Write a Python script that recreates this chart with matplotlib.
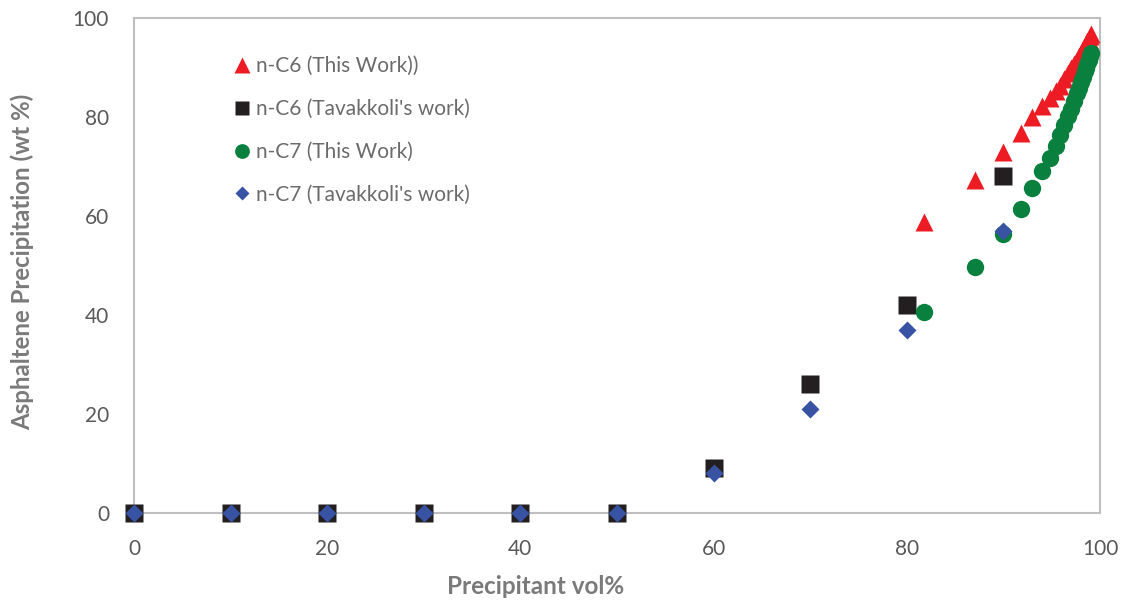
import matplotlib
matplotlib.use("Agg")
import matplotlib.pyplot as plt

# Precipitant volume fraction (%) and asphaltene precipitation (wt %)
tav_x = [0, 10, 20, 30, 40, 50, 60, 70, 80, 90]
c6_tav_y = [0, 0, 0, 0, 0, 0, 9.0, 26.0, 42.0, 68.0]
c7_tav_y = [0, 0, 0, 0, 0, 0, 8.0, 21.0, 37.0, 57.0]

model_x = [81.8, 87.1, 90.0, 91.8, 93.0, 94.0, 94.8, 95.4, 95.9, 96.3, 96.7,
           97.0, 97.3, 97.6, 97.8, 98.0, 98.2, 98.4, 98.55, 98.7, 98.85,
           99.0, 99.1]
c6_model_y = [58.7, 67.2, 72.9, 76.7, 79.9, 82.2, 83.8, 85.2, 86.3, 87.6, 88.8,
              89.8, 90.7, 91.6, 92.3, 93.0, 93.7, 94.3, 94.8, 95.3, 95.8,
              96.3, 96.7]
c7_model_y = [40.6, 49.6, 56.3, 61.5, 65.6, 69.0, 71.8, 74.2, 76.4, 78.3, 80.2,
              81.7, 83.2, 84.8, 85.9, 87.0, 88.1, 89.2, 90.0, 90.8, 91.6,
              92.4, 92.9]

labels = ["n-C6 (This Work))", "n-C6 (Tavakkoli's work)",
          "n-C7 (This Work)", "n-C7 (Tavakkoli's work)"]
x_ticks = [0, 20, 40, 60, 80, 100]
y_ticks = [0, 20, 40, 60, 80, 100]

RED = "#ED1C24"
BLACK = "#231F20"
GREEN = "#0A803F"
BLUE = "#3953A4"
TICK_C = "#595959"
LABEL_C = "#7a7a7a"
SPINE_C = "#BFBFBF"

plt.rcParams["font.family"] = ["Lato", "DejaVu Sans"]

fig = plt.figure(figsize=(11.32, 6.08), dpi=100)
ax = fig.add_axes([134 / 1132, 1 - 513 / 608, (1100 - 134) / 1132, (513 - 18) / 608])

ax.plot(model_x, c6_model_y, linestyle="none", marker="^", ms=13,
        color=RED, mec="none", label=labels[0], zorder=3)
ax.plot(tav_x, c6_tav_y, linestyle="none", marker="s", ms=12.5,
        color=BLACK, mec="none", label=labels[1], zorder=4, clip_on=False)
ax.plot(model_x, c7_model_y, linestyle="none", marker="o", ms=12.5,
        color=GREEN, mec="none", label=labels[2], zorder=5)
ax.plot(tav_x, c7_tav_y, linestyle="none", marker="D", ms=8.9,
        color=BLUE, mec="none", label=labels[3], zorder=6, clip_on=False)

ax.set_xlim(0, 100)
ax.set_ylim(0, 100)
ax.set_xticks(x_ticks)
ax.set_yticks(y_ticks)
ax.tick_params(axis="both", length=0, labelsize=15, colors=TICK_C)
ax.tick_params(axis="x", pad=19)
ax.tick_params(axis="y", pad=18)

for side in ["left", "right", "top", "bottom"]:
    ax.spines[side].set_color(SPINE_C)
    ax.spines[side].set_linewidth(1.5)

fig.text(536 / 1132, 1 - 587 / 608, "Precipitant vol%", ha="center", va="center",
         fontsize=17.5, fontweight="bold", color=LABEL_C)
fig.text(22 / 1132, 1 - 262 / 608, "Asphaltene Precipitation (wt %)", ha="center",
         va="center", rotation=90, fontsize=17.3, fontweight="bold", color=LABEL_C)

leg = ax.legend(loc="upper left", bbox_to_anchor=(236 / 1132, 1 - 56 / 608),
                bbox_transform=fig.transFigure, frameon=False, fontsize=15,
                markerscale=0.85, handlelength=0.6, handletextpad=0.35,
                labelspacing=1.1, borderaxespad=0, borderpad=0)
for t in leg.get_texts():
    t.set_color("#6b6b6b")

fig.savefig("out.png", dpi=100)
